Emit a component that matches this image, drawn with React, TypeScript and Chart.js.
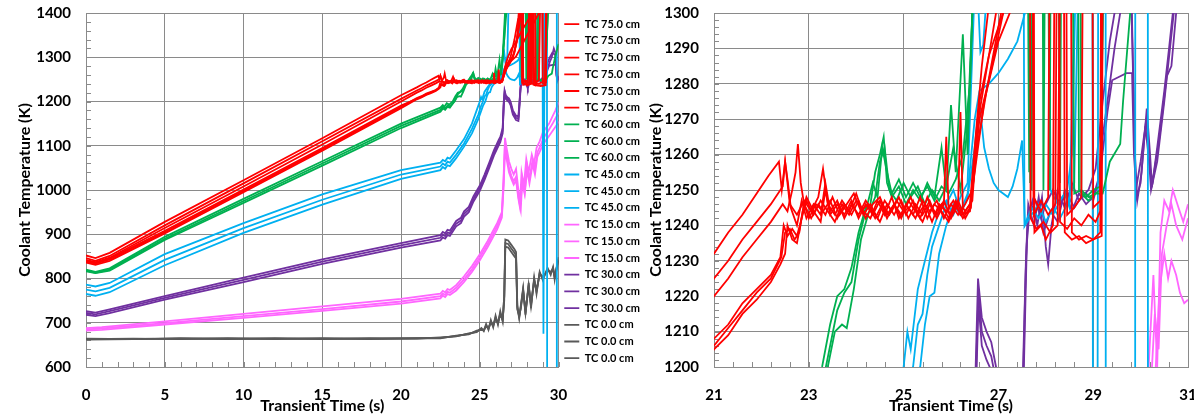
import React, { useEffect, useRef } from 'react';
import { Chart, registerables } from 'chart.js';

Chart.register(...registerables);

type P = [number, number];

// ---------- series (time s, temperature K) ----------
const r1: P[] = [[0,852],[0.6,846],[1.5,858],[5,928],[10,1022],[15,1117],[20,1214],[21,1232],[21.3,1238],[21.6,1243],[21.9,1249],[22.15,1254],[22.37,1258],[22.43,1250],[22.5,1258],[22.6,1246],[22.75,1243],[22.9,1247],[23.05,1244],[23.2,1248],[23.3,1256],[23.4,1246],[23.55,1243],[23.7,1247],[23.85,1244],[24.0,1249],[24.15,1243],[24.3,1246],[24.45,1242],[24.6,1247],[24.75,1244],[24.9,1248],[25.05,1243],[25.2,1247],[25.35,1242],[25.5,1248],[25.65,1243],[25.8,1246],[25.95,1242],[26.1,1247],[26.25,1243],[26.4,1246],[26.5,1262],[26.65,1285],[26.78,1300],[27.0,1318],[27.3,1335],[27.6,1356],[28.0,1380],[28.3,1400],[28.5,1460],[31,1460]];
const r2: P[] = [[0,846],[0.6,840],[1.5,851],[5,920],[10,1015],[15,1110],[20,1206],[21,1225],[21.3,1230],[21.6,1236],[21.9,1241],[22.2,1246],[22.45,1251],[22.5,1258],[22.56,1252],[22.62,1245],[22.75,1240],[22.85,1247],[22.95,1242],[23.1,1246],[23.25,1243],[23.35,1252],[23.45,1244],[23.6,1247],[23.75,1242],[23.9,1246],[24.05,1243],[24.2,1247],[24.35,1244],[24.5,1241],[24.65,1246],[24.8,1243],[24.95,1247],[25.1,1242],[25.25,1246],[25.4,1243],[25.55,1247],[25.7,1242],[25.85,1246],[25.9,1265],[25.95,1244],[26.0,1243],[26.15,1247],[26.3,1242],[26.42,1245],[26.55,1268],[26.7,1280],[26.95,1300],[27.2,1340],[27.45,1390],[27.6,1460],[27.7,1460],[27.74,1248],[27.9,1244],[28.05,1248],[28.15,1460],[28.25,1460],[28.3,1241],[28.45,1239],[28.6,1242],[28.75,1240],[28.9,1243],[29.05,1241],[29.15,1244],[29.2,1460],[31,1460]];
const r3: P[] = [[0,842],[0.6,837],[1.5,847],[5,914],[10,1008],[15,1103],[20,1200],[21,1220],[21.3,1225],[21.6,1231],[21.9,1236],[22.2,1241],[22.45,1246],[22.55,1244],[22.65,1250],[22.72,1255],[22.77,1263],[22.83,1252],[22.9,1246],[23.0,1242],[23.15,1246],[23.3,1244],[23.45,1247],[23.6,1242],[23.75,1246],[23.9,1243],[24.05,1247],[24.2,1242],[24.35,1246],[24.5,1248],[24.65,1243],[24.8,1246],[24.95,1242],[25.1,1247],[25.25,1244],[25.4,1241],[25.55,1246],[25.7,1243],[25.85,1247],[26.0,1242],[26.15,1246],[26.2,1272],[26.25,1245],[26.3,1244],[26.45,1247],[26.6,1275],[26.8,1288],[27.1,1300],[27.3,1330],[27.55,1380],[27.65,1460],[27.72,1460],[27.76,1238],[27.9,1240],[28.0,1236],[28.15,1240],[28.25,1460],[28.35,1460],[28.4,1238],[28.55,1236],[28.7,1237],[28.85,1235],[29.0,1236],[29.15,1238],[29.22,1460],[31,1460]];
const r4: P[] = [[0,838],[0.6,834],[1.5,843],[5,905],[10,998],[15,1092],[20,1188],[21,1208],[21.3,1212],[21.6,1218],[21.9,1222],[22.2,1226],[22.4,1231],[22.47,1240],[22.55,1237],[22.65,1239],[22.75,1237],[22.85,1242],[22.95,1247],[23.1,1243],[23.25,1247],[23.4,1244],[23.55,1241],[23.7,1246],[23.85,1243],[24.0,1247],[24.15,1244],[24.3,1242],[24.45,1247],[24.6,1243],[24.75,1248],[24.9,1242],[25.05,1246],[25.2,1243],[25.35,1248],[25.5,1242],[25.65,1246],[25.8,1244],[25.95,1241],[26.1,1246],[26.25,1242],[26.4,1245],[26.5,1255],[26.7,1275],[27.0,1292],[27.3,1302],[27.6,1322],[28.0,1350],[28.4,1376],[28.75,1400],[28.9,1460],[31,1460]];
const r5: P[] = [[0,836],[0.6,831],[1.5,840],[5,902],[10,995],[15,1089],[20,1185],[21,1205],[21.3,1209],[21.6,1215],[21.9,1219],[22.2,1224],[22.4,1229],[22.5,1232],[22.55,1240],[22.65,1236],[22.75,1235],[22.82,1240],[22.9,1246],[23.05,1242],[23.2,1246],[23.35,1243],[23.5,1248],[23.65,1243],[23.8,1246],[23.95,1249],[24.1,1244],[24.25,1246],[24.4,1242],[24.55,1246],[24.7,1243],[24.85,1247],[25.0,1244],[25.15,1248],[25.3,1243],[25.45,1246],[25.6,1241],[25.75,1246],[25.9,1244],[26.05,1247],[26.2,1243],[26.4,1244],[26.55,1262],[26.75,1278],[27.0,1296],[27.2,1310],[27.45,1360],[27.55,1460],[27.64,1460],[27.68,1242],[27.8,1239],[27.95,1241],[28.1,1238],[28.25,1240],[28.4,1460],[28.5,1460],[28.55,1238],[28.7,1236],[28.85,1237],[29.0,1236],[29.18,1237],[29.24,1460],[31,1460]];
const r6: P[] = [[0,840],[0.6,835],[1.5,845],[5,908],[10,1001],[15,1095],[20,1191],[21,1206],[21.3,1211],[21.6,1216],[21.9,1221],[22.2,1225],[22.42,1231],[22.5,1238],[22.6,1239],[22.7,1236],[22.8,1238],[22.87,1244],[22.95,1248],[23.1,1244],[23.25,1241],[23.35,1250],[23.45,1243],[23.6,1246],[23.75,1243],[23.9,1247],[24.05,1242],[24.2,1246],[24.35,1243],[24.5,1247],[24.65,1242],[24.8,1246],[24.95,1243],[25.1,1245],[25.25,1242],[25.4,1247],[25.55,1244],[25.7,1247],[25.85,1242],[26.0,1246],[26.15,1243],[26.3,1246],[26.45,1250],[26.6,1270],[26.85,1284],[27.1,1300],[27.35,1335],[27.5,1400],[27.6,1460],[27.7,1460],[27.75,1243],[27.9,1247],[28.05,1243],[28.2,1246],[28.3,1460],[28.4,1460],[28.45,1243],[28.6,1245],[28.75,1248],[28.85,1460],[28.95,1460],[29.0,1245],[29.15,1247],[29.25,1460],[31,1460]];

const g1: P[] = [[0,820],[0.6,815],[1.5,823],[5,894],[10,980],[15,1065],[20,1150],[22.5,1186],[22.65,1192],[22.75,1188],[22.9,1196],[23.05,1193],[23.28,1200],[23.45,1212],[23.6,1220],[23.75,1222],[23.9,1228],[24.05,1238],[24.2,1245],[24.3,1246],[24.4,1255],[24.5,1260],[24.58,1265],[24.65,1252],[24.75,1248],[24.9,1251],[25.05,1246],[25.2,1250],[25.35,1247],[25.5,1252],[25.65,1248],[25.8,1262],[25.9,1250],[26.0,1274],[26.1,1255],[26.25,1294],[26.35,1260],[26.5,1320],[26.8,1450],[27.5,1460],[27.62,1460],[27.67,1252],[27.72,1460],[27.9,1460],[27.95,1250],[28.05,1460],[28.5,1460],[28.6,1249],[28.75,1250],[28.9,1248],[29.05,1249],[29.2,1249],[29.35,1258],[29.57,1263],[29.63,1275],[29.78,1300],[30.0,1330],[31,1460]];
const g2: P[] = [[0,818],[0.6,813],[1.5,820],[5,890],[10,975],[15,1060],[20,1145],[22.5,1181],[22.65,1188],[22.8,1184],[22.95,1191],[23.1,1189],[23.4,1200],[23.55,1210],[23.7,1212],[23.8,1211],[23.95,1222],[24.1,1236],[24.25,1243],[24.4,1248],[24.5,1258],[24.6,1262],[24.7,1250],[24.85,1247],[25.0,1252],[25.15,1248],[25.3,1251],[25.45,1246],[25.6,1250],[25.75,1247],[25.9,1251],[26.05,1262],[26.2,1250],[26.35,1268],[26.45,1300],[26.6,1400],[26.8,1460],[27.6,1460],[27.7,1250],[27.78,1460],[28.2,1460],[28.3,1252],[28.38,1460],[28.7,1460],[28.75,1249],[28.9,1247],[29.05,1249],[29.15,1250],[29.22,1320],[29.4,1460],[31,1460]];
const g3: P[] = [[0,816],[0.6,812],[1.5,818],[5,887],[10,971],[15,1055],[20,1140],[22.5,1177],[22.65,1184],[22.8,1181],[22.95,1188],[23.1,1186],[23.3,1196],[23.45,1206],[23.6,1216],[23.75,1221],[23.9,1224],[24.05,1236],[24.2,1244],[24.35,1252],[24.45,1248],[24.55,1262],[24.65,1255],[24.75,1249],[24.9,1253],[25.05,1248],[25.2,1252],[25.35,1248],[25.5,1251],[25.65,1247],[25.8,1251],[25.95,1249],[26.1,1253],[26.25,1260],[26.4,1280],[26.55,1340],[26.7,1460],[27.55,1460],[27.65,1255],[27.75,1460],[28.0,1460],[28.08,1250],[28.15,1460],[28.65,1460],[28.7,1250],[28.85,1248],[29.0,1250],[29.15,1251],[29.25,1340],[29.4,1460],[31,1460]];

const b1: P[] = [[0,786],[0.6,782],[1.5,790],[5,855],[10,925],[15,990],[20,1045],[22.5,1062],[22.65,1068],[22.8,1065],[22.95,1073],[23.1,1071],[23.5,1090],[24.0,1115],[24.5,1150],[24.85,1185],[25.0,1200],[25.08,1210],[25.15,1205],[25.3,1222],[25.45,1230],[25.6,1238],[25.75,1244],[25.9,1247],[26.05,1243],[26.2,1248],[26.35,1252],[26.48,1300],[26.55,1310],[26.62,1289],[26.68,1291],[26.75,1305],[26.85,1460],[27.5,1460],[27.55,1240],[27.7,1245],[27.85,1242],[28.0,1246],[28.15,1243],[28.3,1247],[28.45,1250],[28.55,1260],[28.7,1350],[28.9,1460],[28.97,1460],[29.04,675],[29.12,1460],[31,1460]];
const b2: P[] = [[0,775],[0.6,771],[1.5,779],[5,842],[10,914],[15,978],[20,1035],[22.5,1053],[22.65,1060],[22.8,1056],[22.95,1064],[23.1,1062],[23.5,1080],[24.0,1105],[24.5,1138],[24.9,1170],[25.1,1192],[25.2,1200],[25.3,1212],[25.4,1215],[25.5,1226],[25.6,1234],[25.75,1240],[25.9,1246],[26.05,1250],[26.2,1244],[26.35,1249],[26.5,1270],[26.6,1278],[26.8,1280],[27.0,1283],[27.2,1287],[27.4,1292],[27.52,1298],[27.56,1300],[27.6,1460],[28.0,1460],[28.1,1250],[28.25,1246],[28.4,1249],[28.5,1245],[28.6,1300],[28.7,1460],[29.26,1460],[29.28,300],[29.87,300],[29.89,1460],[31,1460]];
const b3: P[] = [[0,765],[0.6,761],[1.5,769],[5,830],[10,903],[15,967],[20,1025],[22.5,1045],[22.65,1052],[22.8,1048],[22.95,1056],[23.1,1054],[23.5,1072],[24.0,1098],[24.5,1128],[24.9,1160],[25.2,1190],[25.35,1200],[25.45,1212],[25.55,1220],[25.65,1221],[25.75,1232],[25.9,1240],[26.05,1246],[26.2,1243],[26.35,1248],[26.5,1262],[26.6,1275],[26.7,1262],[26.8,1256],[26.9,1252],[27.0,1250],[27.1,1249],[27.2,1248],[27.3,1251],[27.4,1256],[27.5,1264],[27.56,1240],[27.7,1243],[27.85,1246],[28.0,1241],[28.15,1245],[28.3,1242],[28.45,1246],[28.6,1252],[28.7,1320],[28.8,1460],[30.15,1460],[30.17,300],[31,300]];

const p1: P[] = [[0,688],[1,690],[5,703],[10,720],[15,737],[20,754],[22.5,766],[22.65,772],[22.8,769],[22.95,776],[23.1,774],[23.5,785],[24.0,805],[24.5,828],[25.0,855],[25.5,885],[25.8,905],[26.1,925],[26.4,950],[26.5,1020],[26.6,1118],[26.7,1095],[26.85,1065],[27.0,1048],[27.15,1035],[27.3,1048],[27.45,1000],[27.55,970],[27.65,1040],[27.8,1010],[27.95,1070],[28.1,1040],[28.3,1080],[28.45,1060],[28.6,1095],[28.8,1110],[29.0,1130],[29.2,1140],[29.4,1150],[29.6,1165],[29.8,1180],[30.0,1198],[30.15,1195],[30.27,1226],[30.35,1200],[30.42,1238],[30.5,1247],[30.6,1244],[30.68,1250],[30.8,1245],[30.9,1241],[31,1246]];
const p2: P[] = [[0,685],[1,687],[5,699],[10,715],[15,731],[20,748],[22.5,760],[22.65,766],[22.8,763],[22.95,770],[23.1,768],[23.5,779],[24.0,798],[24.5,821],[25.0,848],[25.5,878],[25.8,898],[26.1,918],[26.4,944],[26.5,1010],[26.6,1105],[26.7,1080],[26.85,1050],[27.0,1032],[27.15,1020],[27.3,1030],[27.45,985],[27.6,955],[27.7,1025],[27.85,995],[28.0,1055],[28.15,1025],[28.35,1068],[28.5,1045],[28.65,1085],[28.85,1100],[29.05,1118],[29.25,1128],[29.45,1140],[29.65,1152],[29.85,1165],[30.0,1175],[30.2,1190],[30.3,1215],[30.38,1205],[30.45,1232],[30.55,1240],[30.65,1246],[30.75,1240],[30.88,1236],[31,1242]];
const p3: P[] = [[0,682],[1,684],[5,696],[10,711],[15,727],[20,743],[22.5,755],[22.65,761],[22.8,758],[22.95,765],[23.1,763],[23.5,773],[24.0,792],[24.5,815],[25.0,841],[25.5,871],[25.8,891],[26.1,911],[26.4,938],[26.5,1000],[26.6,1090],[26.7,1070],[26.85,1040],[27.0,1025],[27.15,1012],[27.3,1022],[27.45,980],[27.55,960],[27.7,1015],[27.85,990],[28.0,1045],[28.15,1015],[28.35,1058],[28.5,1035],[28.65,1075],[28.85,1090],[29.05,1105],[29.25,1115],[29.45,1125],[29.65,1135],[29.85,1145],[30.0,1155],[30.2,1175],[30.32,1200],[30.4,1222],[30.5,1232],[30.58,1225],[30.65,1230],[30.75,1226],[30.83,1221],[30.92,1218],[31,1219]];

const v1: P[] = [[0,726],[0.6,723],[1.5,730],[5,760],[10,802],[15,843],[20,880],[22.5,898],[22.65,905],[22.8,902],[22.95,910],[23.1,908],[23.5,930],[23.8,937],[24.0,952],[24.3,962],[24.6,986],[25.0,1010],[25.3,1035],[25.6,1062],[25.9,1090],[26.2,1113],[26.3,1120],[26.45,1140],[26.52,1200],[26.57,1225],[26.65,1214],[26.75,1210],[26.85,1207],[26.95,1200],[27.1,1180],[27.3,1168],[27.45,1166],[27.52,1200],[27.57,1225],[27.62,1242],[27.72,1247],[27.82,1240],[27.92,1248],[28.0,1234],[28.05,1229],[28.12,1240],[28.25,1250],[28.4,1245],[28.55,1252],[28.7,1247],[28.85,1249],[29.0,1247],[29.1,1252],[29.2,1265],[29.35,1280],[29.45,1290],[29.57,1300],[29.7,1320],[29.8,1310],[29.88,1260],[29.93,1247],[30.02,1255],[30.13,1273],[30.2,1260],[30.24,1251],[30.35,1262],[30.5,1278],[30.6,1290],[30.68,1300],[31,1340]];
const v2: P[] = [[0,722],[0.6,719],[1.5,726],[5,756],[10,797],[15,838],[20,875],[22.5,892],[22.65,899],[22.8,896],[22.95,904],[23.1,902],[23.5,924],[23.8,931],[24.0,946],[24.3,956],[24.6,980],[25.0,1004],[25.3,1029],[25.6,1056],[25.9,1084],[26.2,1107],[26.3,1114],[26.45,1134],[26.52,1195],[26.58,1222],[26.65,1210],[26.75,1206],[26.85,1203],[26.95,1196],[27.1,1175],[27.3,1163],[27.45,1161],[27.52,1195],[27.58,1230],[27.63,1246],[27.75,1240],[27.85,1248],[27.95,1238],[28.1,1244],[28.25,1241],[28.4,1250],[28.55,1244],[28.7,1249],[28.85,1246],[29.0,1248],[29.15,1255],[29.3,1272],[29.4,1281],[29.55,1282],[29.7,1283],[29.82,1283],[29.86,1260],[29.92,1248],[30.0,1252],[30.1,1268],[30.18,1258],[30.25,1252],[30.4,1265],[30.55,1282],[30.65,1285],[30.75,1300],[31,1330]];
const v3: P[] = [[0,718],[0.6,715],[1.5,722],[5,752],[10,792],[15,833],[20,870],[22.5,886],[22.65,893],[22.8,890],[22.95,898],[23.1,896],[23.5,918],[23.8,925],[24.0,940],[24.3,950],[24.6,974],[25.0,998],[25.3,1023],[25.6,1050],[25.9,1078],[26.2,1101],[26.3,1108],[26.45,1128],[26.52,1190],[26.58,1218],[26.65,1206],[26.75,1202],[26.85,1199],[26.95,1192],[27.1,1170],[27.3,1158],[27.45,1156],[27.52,1190],[27.6,1235],[27.65,1243],[27.78,1247],[27.9,1242],[28.0,1246],[28.15,1250],[28.3,1246],[28.45,1249],[28.6,1245],[28.75,1248],[28.9,1250],[29.05,1256],[29.2,1275],[29.35,1292],[29.45,1300],[29.6,1310],[29.8,1305],[29.9,1250],[30.0,1258],[30.12,1270],[30.22,1250],[30.35,1258],[30.5,1275],[30.62,1290],[30.7,1300],[31,1320]];

const k1: P[] = [[0,664],[3,663],[6,665],[9,664],[12,663],[15,665],[18,664],[21,665],[22.5,666],[23.5,670],[24.3,675],[24.8,680],[25.1,686],[25.25,682],[25.4,694],[25.55,686],[25.7,703],[25.85,692],[26.0,712],[26.15,698],[26.3,722],[26.45,705],[26.55,760],[26.62,888],[26.8,886],[27.0,876],[27.2,866],[27.3,860],[27.38,740],[27.5,713],[27.6,735],[27.75,775],[27.9,722],[28.1,785],[28.25,738],[28.45,798],[28.6,770],[28.8,812],[29.0,800],[29.3,820],[29.5,812],[29.65,824],[29.75,802],[29.85,818],[30.0,848],[31,855]];
const k2: P[] = [[0,663],[3,664],[6,663],[9,665],[12,664],[15,663],[18,665],[21,664],[22.5,667],[23.5,669],[24.3,676],[24.8,679],[25.1,688],[25.25,681],[25.4,697],[25.55,684],[25.7,706],[25.85,690],[26.0,716],[26.15,696],[26.3,726],[26.45,703],[26.55,760],[26.62,880],[26.8,878],[27.0,868],[27.2,858],[27.3,852],[27.38,735],[27.5,710],[27.6,738],[27.75,778],[27.9,718],[28.1,790],[28.25,733],[28.45,802],[28.6,765],[28.8,815],[29.0,796],[29.3,824],[29.5,808],[29.65,826],[29.75,798],[29.85,822],[30.0,842],[31,850]];
const k3: P[] = [[0,662],[3,663],[6,664],[9,663],[12,665],[15,664],[18,663],[21,665],[22.5,665],[23.5,671],[24.3,674],[24.8,682],[25.1,684],[25.25,683],[25.4,692],[25.55,688],[25.7,700],[25.85,694],[26.0,708],[26.15,700],[26.3,718],[26.45,707],[26.55,750],[26.62,872],[26.8,870],[27.0,860],[27.2,850],[27.3,845],[27.38,730],[27.5,716],[27.6,732],[27.75,772],[27.9,726],[28.1,782],[28.25,742],[28.45,795],[28.6,774],[28.8,810],[29.0,804],[29.3,818],[29.5,815],[29.65,821],[29.75,806],[29.85,815],[30.0,840],[31,846]];

const SERIES: P[][] = [r1, r2, r3, r4, r5, r6, g1, g2, g3, b1, b2, b3, p1, p2, p3, v1, v2, v3, k1, k2, k3];
const SERIES_LABELS: string[] = [
  'TC 75.0 cm', 'TC 75.0 cm', 'TC 75.0 cm', 'TC 75.0 cm', 'TC 75.0 cm', 'TC 75.0 cm',
  'TC 60.0 cm', 'TC 60.0 cm', 'TC 60.0 cm',
  'TC 45.0 cm', 'TC 45.0 cm', 'TC 45.0 cm',
  'TC 15.0 cm', 'TC 15.0 cm', 'TC 15.0 cm',
  'TC 30.0 cm', 'TC 30.0 cm', 'TC 30.0 cm',
  'TC 0.0 cm', 'TC 0.0 cm', 'TC 0.0 cm',
];

// tick labels
const LEFT_X_LABELS: number[] = [0, 5, 10, 15, 20, 25, 30];
const LEFT_Y_LABELS: number[] = [600, 700, 800, 900, 1000, 1100, 1200, 1300, 1400];
const RIGHT_X_LABELS: number[] = [21, 23, 25, 27, 29, 31];
const RIGHT_Y_LABELS: number[] = [1200, 1210, 1220, 1230, 1240, 1250, 1260, 1270, 1280, 1290, 1300];

// ---------- styles ----------
const RED = '#FF0000';
const GREEN = '#00B050';
const BLUE = '#00B0F0';
const PINK = '#FF66FF';
const PURPLE = '#7030A0';
const GRAY = '#595959';
const COLORS = [RED, RED, RED, RED, RED, RED, GREEN, GREEN, GREEN, BLUE, BLUE, BLUE, PINK, PINK, PINK, PURPLE, PURPLE, PURPLE, GRAY, GRAY, GRAY];
const GRID = '#8a8a8a';
const FONT = 'Lato, "Open Sans", sans-serif';

const isLabel = (list: number[], v: number) => list.some((l) => Math.abs(l - v) < 1e-6);

function makeDatasets() {
  return SERIES.map((s, i) => ({
    label: SERIES_LABELS[i],
    data: s.map(([x, y]) => ({ x, y })),
    borderColor: COLORS[i],
    backgroundColor: COLORS[i],
    borderWidth: 1.8,
    pointRadius: 0,
    pointHoverRadius: 0,
    pointStyle: 'line',
    tension: 0,
    fill: false,
  }));
}

const minorTicks = {
  id: 'minorTicks',
  beforeDatasetsDraw(chart: any) {
    const { ctx, chartArea, scales } = chart;
    ctx.save();
    ctx.strokeStyle = GRID;
    ctx.lineWidth = 1;
    ctx.beginPath();
    scales.x.ticks.forEach((t: any) => {
      const px = Math.round(scales.x.getPixelForValue(t.value)) + 0.5;
      ctx.moveTo(px, chartArea.bottom);
      ctx.lineTo(px, chartArea.bottom - 5);
    });
    scales.y.ticks.forEach((t: any) => {
      const py = Math.round(scales.y.getPixelForValue(t.value)) + 0.5;
      ctx.moveTo(chartArea.left, py);
      ctx.lineTo(chartArea.left + 5, py);
    });
    ctx.stroke();
    ctx.restore();
  },
};

function makeOptions(cfg: {
  xmin: number; xmax: number; xstep: number; xLabels: number[];
  ymin: number; ymax: number; ystep: number; yLabels: number[];
  yWidth: number; yTitlePad: number; legend: boolean; padRight: number;
}) {
  const tickFont = { family: FONT, size: 15, weight: 'bold' as const };
  const titleFont = { family: FONT, size: 16, weight: 'bold' as const };
  return {
    responsive: false,
    animation: false as const,
    events: [],
    layout: { padding: { top: 13, right: cfg.padRight, bottom: 0, left: 0 } },
    plugins: {
      tooltip: { enabled: false },
      legend: {
        display: cfg.legend,
        position: 'right' as const,
        align: 'start' as const,
        labels: {
          usePointStyle: true,
          pointStyleWidth: 15,
          padding: 5.7,
          color: '#000',
          font: { family: FONT, size: 11, weight: 'bold' as const },
        },
      },
    },
    scales: {
      x: {
        type: 'linear' as const,
        min: cfg.xmin,
        max: cfg.xmax,
        afterFit: (s: any) => { s.height = 50; s.paddingLeft = 0; s.paddingRight = 0; },
        ticks: {
          stepSize: cfg.xstep,
          autoSkip: false,
          maxRotation: 0,
          padding: 19,
          color: '#000',
          font: tickFont,
          callback: (v: any) => (isLabel(cfg.xLabels, Number(v)) ? String(Math.round(Number(v))) : ''),
        },
        grid: {
          drawTicks: false,
          lineWidth: 1,
          color: (c: any) => (c.tick && isLabel(cfg.xLabels, c.tick.value) ? GRID : 'rgba(0,0,0,0)'),
        },
        border: { display: true, color: GRID },
        title: { display: true, text: 'Transient Time (s)', color: '#000', font: titleFont, padding: { top: 0, bottom: 2 } },
      },
      y: {
        type: 'linear' as const,
        min: cfg.ymin,
        max: cfg.ymax,
        afterFit: (s: any) => { s.width = cfg.yWidth; s.paddingTop = 0; s.paddingBottom = 0; },
        ticks: {
          stepSize: cfg.ystep,
          autoSkip: false,
          padding: 15,
          color: '#000',
          font: tickFont,
          callback: (v: any) => (isLabel(cfg.yLabels, Number(v)) ? String(Math.round(Number(v))) : ''),
        },
        grid: {
          drawTicks: false,
          lineWidth: 1,
          color: (c: any) => (c.tick && isLabel(cfg.yLabels, c.tick.value) ? GRID : 'rgba(0,0,0,0)'),
        },
        border: { display: true, color: GRID },
        title: { display: true, text: 'Coolant Temperature (K)', color: '#000', font: titleFont, padding: { top: cfg.yTitlePad, bottom: 0 } },
      },
    },
  };
}

export default function App() {
  const leftRef = useRef<HTMLCanvasElement | null>(null);
  const rightRef = useRef<HTMLCanvasElement | null>(null);

  useEffect(() => {
    const left = new Chart(leftRef.current as HTMLCanvasElement, {
      type: 'line',
      data: { datasets: makeDatasets() as any },
      options: makeOptions({
        xmin: 0, xmax: 30, xstep: 1, xLabels: LEFT_X_LABELS,
        ymin: 600, ymax: 1400, ystep: 20, yLabels: LEFT_Y_LABELS,
        yWidth: 86, yTitlePad: 15, legend: true, padRight: 0,
      }) as any,
      plugins: [minorTicks],
    });
    const right = new Chart(rightRef.current as HTMLCanvasElement, {
      type: 'line',
      data: { datasets: makeDatasets() as any },
      options: makeOptions({
        xmin: 21, xmax: 31, xstep: 0.4, xLabels: RIGHT_X_LABELS,
        ymin: 1200, ymax: 1300, ystep: 2, yLabels: RIGHT_Y_LABELS,
        yWidth: 114, yTitlePad: 46, legend: false, padRight: 6,
      }) as any,
      plugins: [minorTicks],
    });
    return () => {
      left.destroy();
      right.destroy();
    };
  }, []);

  return (
    <div style={{ position: 'fixed', left: 0, top: 0, width: 1194, height: 417, background: '#fff', overflow: 'hidden' }}>
      <canvas ref={leftRef} width={650} height={417} style={{ position: 'absolute', left: 0, top: 0, width: 650, height: 417 }} />
      <canvas ref={rightRef} width={594} height={417} style={{ position: 'absolute', left: 600, top: 0, width: 594, height: 417 }} />
    </div>
  );
}
